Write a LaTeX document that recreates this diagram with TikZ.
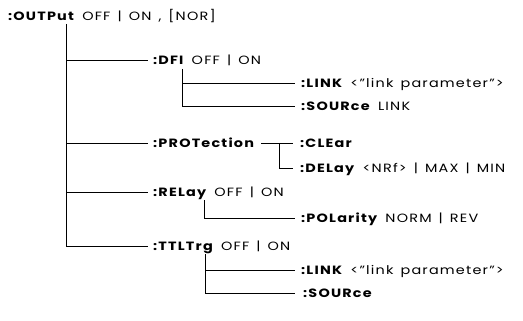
\documentclass[tikz,border=0pt]{standalone}
\usepackage{fontspec}
\setmainfont[FakeStretch=1.2,LetterSpace=10,WordSpace=1.4]{Poppins}
\begin{document}
\begin{tikzpicture}[x=1pt,y=-1pt,
  lbl/.style={anchor=west, inner sep=0pt, text height=8.5pt, text depth=0pt, font=\fontsize{12}{14}\selectfont},
  ln/.style={line width=0.7pt}]
\useasboundingbox (0,0) rectangle (523,321);
\node[lbl] (out) at (8,16) {\textbf{:OUTPut} OFF | ON , [NOR]};
\node[lbl] (dfi) at (153,60) {\textbf{:DFI} OFF | ON};
\node[lbl] (dlink) at (301,83) {\textbf{:LINK} <"link parameter">};
\node[lbl] (dsrc) at (301,106) {\textbf{:SOURce} LINK};
\node[lbl] (prot) at (153,143) {\textbf{:PROTection}};
\node[lbl] (clr) at (300,143) {\textbf{:CLEar}};
\node[lbl] (dly) at (300,168) {\textbf{:DELay} <NRf> | MAX | MIN};
\node[lbl] (rel) at (153,192) {\textbf{:RELay} OFF | ON};
\node[lbl] (pol) at (301,218) {\textbf{:POLarity} NORM | REV};
\node[lbl] (ttl) at (153,246) {\textbf{:TTLTrg} OFF | ON};
\node[lbl] (tlink) at (301,270) {\textbf{:LINK} <"link parameter">};
\node[lbl] (tsrc) at (303,293) {\textbf{:SOURce}};

\coordinate (v0) at (66,24);
\coordinate (v1) at (182,69);
\coordinate (v2) at (279,143);
\coordinate (v3) at (204,200);
\coordinate (v4) at (205,254);

\draw[ln] (v0) |- ([xshift=-5pt]ttl.west);
\draw[ln] (v0 |- dfi.west) -- ([xshift=-5pt]dfi.west);
\draw[ln] (v0 |- prot.west) -- ([xshift=-5pt]prot.west);
\draw[ln] (v0 |- rel.west) -- ([xshift=-5pt]rel.west);

\draw[ln] (v1) |- ([xshift=-6pt]dsrc.west);
\draw[ln] (v1 |- dlink.west) -- ([xshift=-6pt]dlink.west);

\draw[ln] ([xshift=6pt]prot.east) -- ([xshift=-7pt]clr.west);
\draw[ln] (v2) |- ([xshift=-7pt]dly.west);

\draw[ln] (v3) |- ([xshift=-6pt]pol.west);

\draw[ln] (v4) |- ([xshift=-8pt]tsrc.west);
\draw[ln] (v4 |- tlink.west) -- ([xshift=-6pt]tlink.west);
\end{tikzpicture}
\end{document}
